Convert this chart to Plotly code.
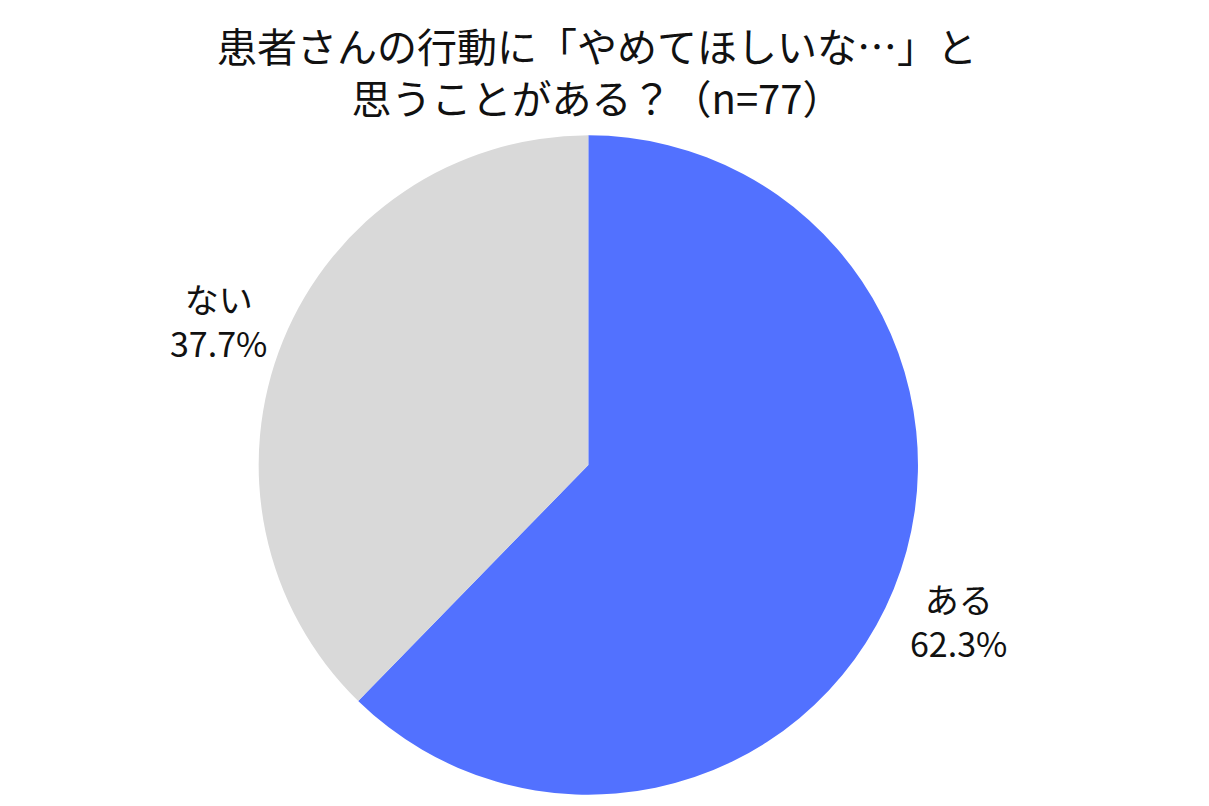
import plotly.graph_objects as go

labels = ["ある", "ない"]
values = [62.3, 37.7]
colors = ["#5271FF", "#D9D9D9"]

fig = go.Figure(go.Pie(
    labels=labels, values=values, sort=False, direction="clockwise", rotation=0,
    marker=dict(colors=colors), textinfo="none", hoverinfo="label+percent",
    domain=dict(x=[0.207, 0.753], y=[0.024, 0.842]), showlegend=False,
))

font = "Noto Sans CJK JP"
pos = [(950, 612), (210, 312)]
for lab, val, (px, py) in zip(labels, values, pos):
    fig.add_annotation(x=px / 1209, y=1 - py / 806, xref="paper", yref="paper",
                       xanchor="center", yanchor="middle",
                       text=f"{lab}<br>{val}%", showarrow=False,
                       font=dict(family=font, size=34, color="#111"))

fig.add_annotation(x=589 / 1209, y=1 - 63 / 806, xref="paper", yref="paper",
                   xanchor="center", yanchor="middle",
                   text="患者さんの行動に「やめてほしいな…」と<br>思うことがある？（n=77）",
                   showarrow=False, font=dict(family=font, size=40, color="#111"))

fig.update_layout(width=1209, height=806, margin=dict(l=0, r=0, t=0, b=0),
                  paper_bgcolor="white", font=dict(family=font))
fig.write_html("out.html")
